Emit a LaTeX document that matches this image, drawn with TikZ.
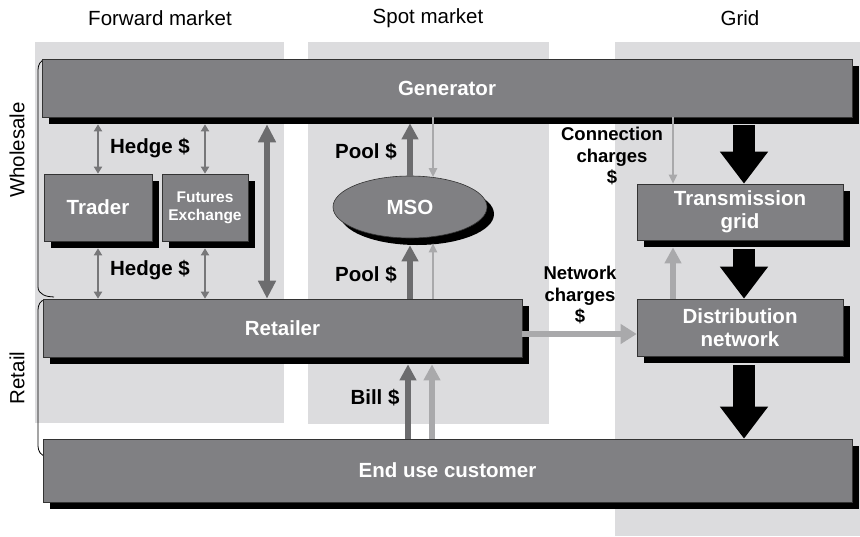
\documentclass[tikz,border=0pt]{standalone}
\usepackage{fontspec}
\setmainfont{Liberation Sans}
\usetikzlibrary{arrows.meta,shapes.geometric,calc}
\definecolor{panel}{HTML}{DCDCDE}
\definecolor{bargray}{HTML}{808083}
\definecolor{darkarr}{HTML}{6C6C6E}
\definecolor{lightarr}{HTML}{A9A9AB}
\definecolor{hedgearr}{HTML}{777779}
\tikzset{
  shadowed/.style={preaction={fill=black,transform canvas={shift={(7pt,-7pt)}}}},
  box/.style={shadowed,fill=bargray,draw=black!80,line width=0.6pt,inner sep=0pt,
    text=white,font=\bfseries\fontsize{20.5}{23}\selectfont,align=center},
  hdr/.style={font=\fontsize{20.5}{23}\selectfont},
  lbl/.style={font=\bfseries\fontsize{20.5}{23}\selectfont,align=center},
  slbl/.style={font=\bfseries\fontsize{18.5}{21.5}\selectfont,align=center},
  hedge/.style={draw=hedgearr,line width=2.5pt,{Triangle[width=8pt,length=7pt]}-{Triangle[width=8pt,length=7pt]}},
  bigdbl/.style={draw=darkarr,line width=6pt,{Triangle[width=17pt,length=18pt]}-{Triangle[width=17pt,length=18pt]}},
  darkthick/.style={draw=darkarr,line width=6pt,-{Triangle[width=16pt,length=16pt]}},
  lightthick/.style={draw=lightarr,line width=6pt,-{Triangle[width=16pt,length=16pt]}},
  lightthin/.style={draw=lightarr,line width=2pt,-{Triangle[width=8pt,length=9pt]}},
  netarr/.style={draw=lightarr,line width=6pt,-{Triangle[width=19pt,length=16pt]}},
  blackarr/.style={draw=black,line width=22pt,-{Triangle[width=46pt,length=32pt]}},
  bracel/.style={draw=black,line width=0.8pt},
}
\begin{document}
\begin{tikzpicture}[x=1pt,y=-1pt]
\useasboundingbox (0,0) rectangle (860,536);
% panels
\fill[panel] (35,42) rectangle (284,423);
\fill[panel] (308,42) rectangle (549,424);
\fill[panel] (615,42) rectangle (860,536);
% headers
\node[hdr] (hfwd) at (160,18) {Forward market};
\node[hdr] (hspot) at (428,18) {Spot market};
\node[hdr] (hgrid) at (740,18) {Grid};
% braces
\draw[bracel] (45,60) to[out=180,in=90] (38,70) -- (38,287) to[out=-90,in=180] (54,297);
\draw[bracel] (45,300) to[out=180,in=90] (38,310) -- (38,446) to[out=-90,in=180] (46,456);
\node[hdr,rotate=90] (whole) at (17,150) {Wholesale};
\node[hdr,rotate=90] (retl) at (17,378) {Retail};
% boxes
\node[box,minimum width=810pt,minimum height=58pt] (gen) at (447,88) {Generator};
\node[box,minimum width=108pt,minimum height=67pt] (trader) at (98,207.5) {Trader};
\node[box,minimum width=86pt,minimum height=67pt,font=\bfseries\fontsize{15.5}{18}\selectfont] (fut) at (205,207.5) {Futures\\Exchange};
\node[box,ellipse,minimum width=154pt,minimum height=62pt] (mso) at (410,207) {MSO};
\node[box,minimum width=479pt,minimum height=58pt] (retail) at (282.5,328) {Retailer};
\node[box,minimum width=206pt,minimum height=56pt] (trans) at (740,212) {Transmission\\grid};
\node[box,minimum width=206pt,minimum height=57pt] (dist) at (740,327.5) {Distribution\\network};
\node[box,minimum width=809pt,minimum height=63pt] (cust) at (447.5,470.5) {End use customer};
% helper x positions
\coordinate (bx) at (267,0);
\coordinate (plx) at (433,0);
\coordinate (b1) at (408,0);
\coordinate (b2) at (432,0);
\coordinate (cx) at (673,0);
\coordinate (kx) at (744,0);
% hedge arrows
\draw[hedge] ([yshift=-7pt]gen.south -| trader.north) -- (trader.north);
\draw[hedge] ([yshift=-7pt]gen.south -| fut.north) -- (fut.north);
\draw[hedge] ([yshift=-7pt]trader.south) -- (retail.north -| trader.south);
\draw[hedge] ([yshift=-7pt]fut.south) -- (retail.north -| fut.south);
\draw[bigdbl] ([yshift=-7pt]gen.south -| bx) -- (retail.north -| bx);
% pool arrows
\draw[darkthick] (mso.north) -- ([yshift=-6pt]gen.south -| mso.north);
\draw[lightthin] (gen.south -| plx) -- ([xshift=23pt,yshift=-1.5pt]mso.north);
\draw[darkthick] (retail.north -| mso.south) -- ([yshift=-7pt]mso.south);
\draw[lightthin] (retail.north -| plx) -- ([xshift=23pt,yshift=-5pt]mso.south);
% bill arrows
\draw[darkthick] (cust.north -| b1) -- ([yshift=-7pt]retail.south -| b1);
\draw[lightthick] (cust.north -| b2) -- ([yshift=-7pt]retail.south -| b2);
% network / connection
\draw[netarr] ([yshift=-6pt]retail.east) -- ([yshift=-6pt]retail.east -| dist.west);
\draw[lightthin] (gen.south -| cx) -- (trans.north -| cx);
\draw[lightthick] (dist.north -| cx) -- ([yshift=-7pt]trans.south -| cx);
% energy flow
\draw[blackarr] ([yshift=-8pt]gen.south -| kx) -- (trans.north -| kx);
\draw[blackarr] ([yshift=-9pt]trans.south -| kx) -- (dist.north -| kx);
\draw[blackarr] ([yshift=-9pt]dist.south -| kx) -- (cust.north -| kx);
% labels
\node[lbl] (h1) at (150,148) {Hedge \$};
\node[lbl] (h2) at (150,270) {Hedge \$};
\node[lbl] (p1) at (366,152) {Pool \$};
\node[lbl] (p2) at (366,275) {Pool \$};
\node[lbl] (bill) at (375,398) {Bill \$};
\node[slbl] (conn) at (612,156) {Connection\\charges\\\$};
\node[slbl] (netc) at (580,295) {Network\\charges\\\$};
\end{tikzpicture}
\end{document}
